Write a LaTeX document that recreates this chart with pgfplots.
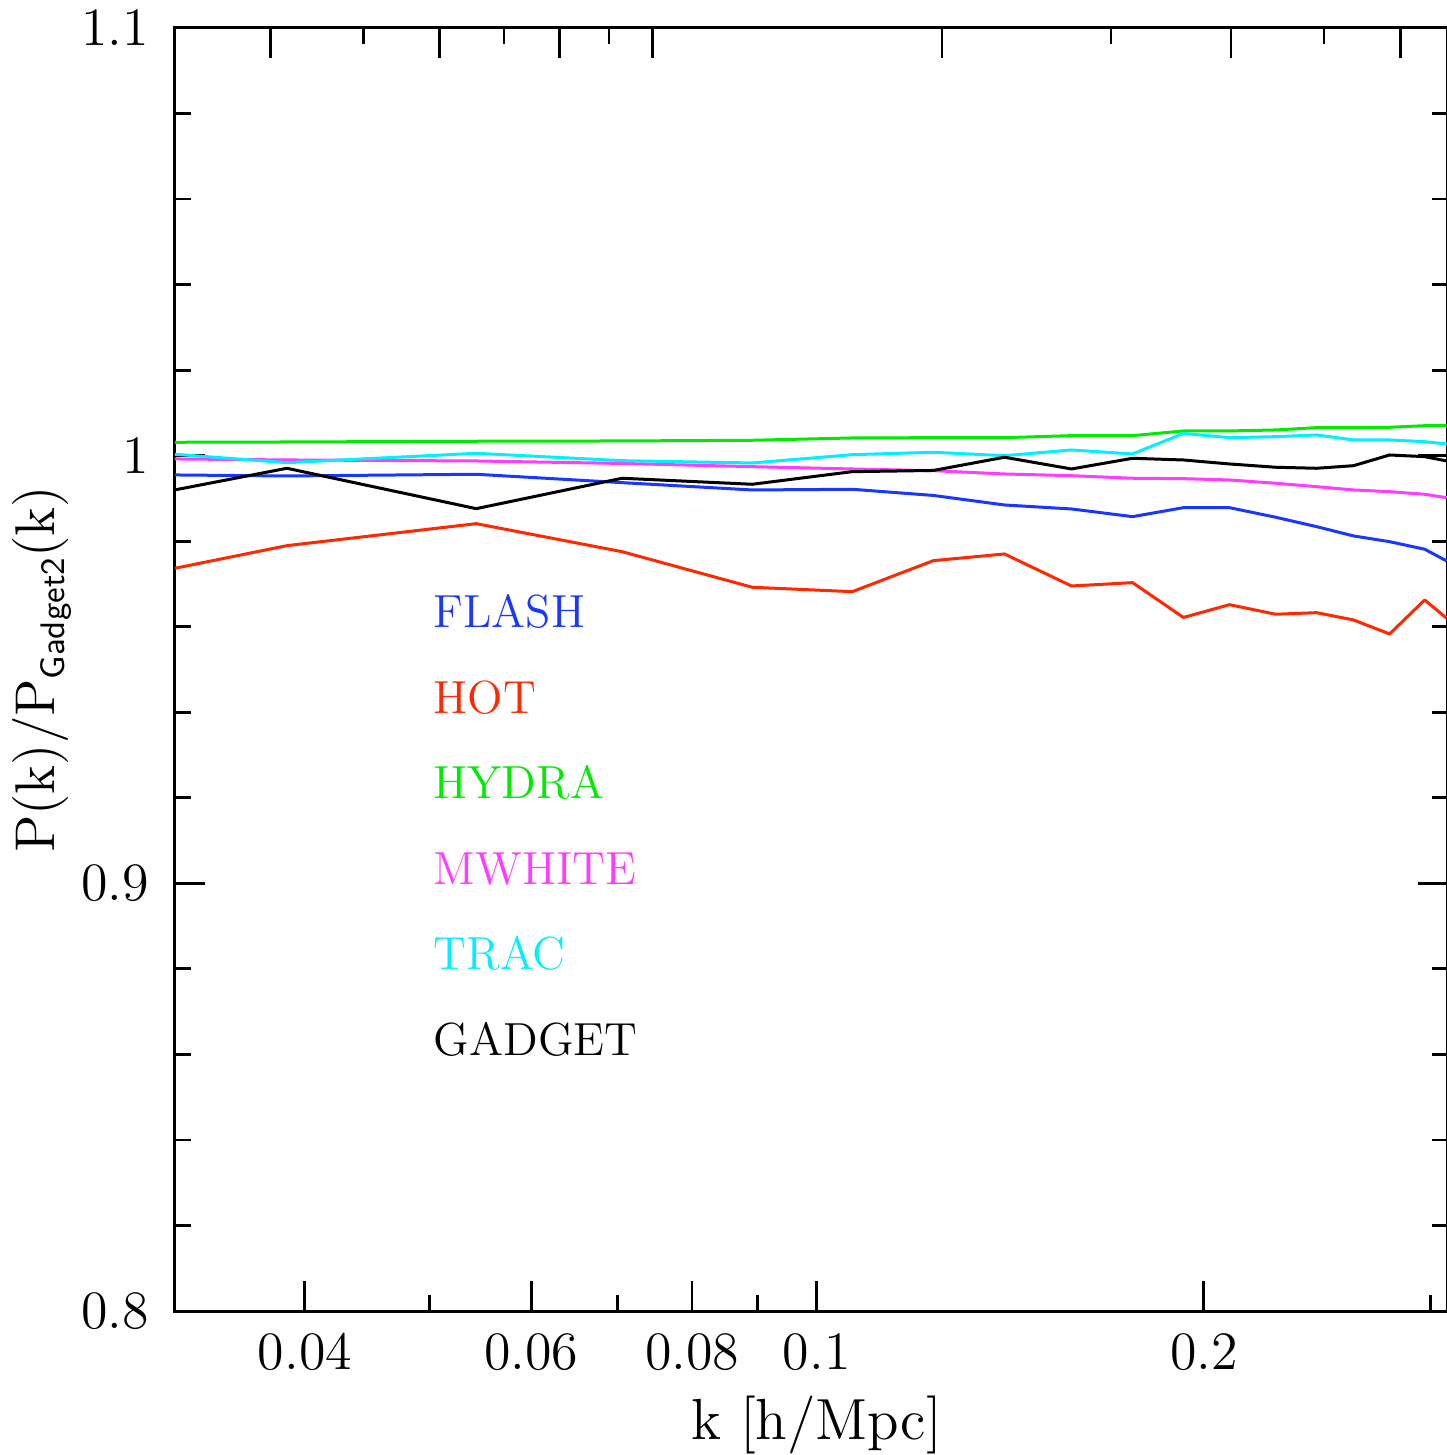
\documentclass[border=0pt]{standalone}
\usepackage{pgfplots}
\pgfplotsset{compat=1.18}
\usepackage{pgfplotstable}

\definecolor{cflash}{RGB}{25,55,255}
\definecolor{chot}{RGB}{255,40,0}
\definecolor{chydra}{RGB}{0,235,0}
\definecolor{cmwhite}{RGB}{255,60,255}
\definecolor{ctrac}{RGB}{0,240,255}

% Power spectrum ratio to GADGET2 for each code
\pgfplotstableread{
k        flash    hot      hydra    mwhite   trac     gadget
0.03170  0.99549  0.97367  1.00313  0.99923  1.00033  0.99200
0.03874  0.99525  0.97896  1.00320  0.99900  0.99836  0.99705
0.05436  0.99565  0.98410  1.00337  0.99876  1.00056  0.98761
0.07058  0.99369  0.97755  1.00344  0.99818  0.99883  0.99472
0.08910  0.99198  0.96923  1.00360  0.99743  0.99829  0.99331
0.10657  0.99214  0.96820  1.00414  0.99689  1.00023  0.99626
0.12321  0.99070  0.97545  1.00421  0.99649  1.00080  0.99654
0.13995  0.98847  0.97702  1.00421  0.99572  1.00000  0.99963
0.15778  0.98754  0.96953  1.00468  0.99532  1.00133  0.99689
0.17603  0.98574  0.97031  1.00468  0.99472  1.00040  0.99939
0.19283  0.98784  0.96217  1.00578  0.99462  1.00520  0.99899
0.20938  0.98784  0.96516  1.00578  0.99432  1.00421  0.99806
0.22743  0.98560  0.96292  1.00601  0.99355  1.00444  0.99729
0.24472  0.98340  0.96329  1.00655  0.99275  1.00484  0.99705
0.26146  0.98123  0.96158  1.00655  0.99198  1.00367  0.99766
0.27887  0.97989  0.95831  1.00664  0.99158  1.00367  1.00016
0.29695  0.97812  0.96626  1.00701  0.99097  1.00327  0.99977
0.30888  0.97538  0.96198  1.00701  0.99018  1.00274  0.99876
}\ratiotable

\pgfplotsset{
  frame/.style={
    scale only axis,
    width=318.25pt, height=320.75pt,
    ymin=0.8, ymax=1.1,
    axis line style={line width=0.75pt},
    major tick style={line width=0.7pt, black},
    minor tick style={line width=0.7pt, black},
    major tick length=7.5pt,
    minor tick length=4pt,
    tick align=inside,
  }
}

\begin{document}
\begin{tikzpicture}
\begin{axis}[
  frame,
  xmode=log,
  xmin=0.0317, xmax=0.3096,
  xtick={0.04,0.06,0.08,0.1,0.2},
  xticklabels={0.04,0.06,0.08,0.1,0.2},
  minor xtick={0.05,0.07,0.09,0.3},
  xtick pos=lower,
  ytick={0.8,0.9,1.0,1.1},
  yticklabels={0.8,0.9,1,1.1},
  minor ytick={0.82,0.84,0.86,0.88,0.92,0.94,0.96,0.98,1.02,1.04,1.06,1.08},
  ytick pos=both,
  tick label style={font=\fontsize{13.5}{16}\selectfont},
  xticklabel style={yshift=-2pt},
  yticklabel style={xshift=-3pt},
  xlabel={k [h/Mpc]},
  ylabel={P(k)/P\raisebox{-0.45ex}{\fontsize{8.5}{10}\selectfont\sffamily Gadget2}(k)},
  label style={font=\fontsize{14}{17}\selectfont},
  xlabel style={font=\fontsize{14.5}{17}\selectfont,
    at={(axis description cs:0.504,-0.1005)}, anchor=base},
  ylabel style={at={(axis description cs:-0.1045,0.5)}, anchor=center},
  every axis plot/.append style={line width=0.75pt, line join=round},
  clip=true,
]
\coordinate (sw) at (rel axis cs:0,0);

\addplot[cflash]  table[x=k, y=flash]  {\ratiotable};
\addplot[chot]    table[x=k, y=hot]    {\ratiotable};
\addplot[chydra]  table[x=k, y=hydra]  {\ratiotable};
\addplot[cmwhite] table[x=k, y=mwhite] {\ratiotable};
\addplot[ctrac]   table[x=k, y=trac]   {\ratiotable};
\addplot[black]   table[x=k, y=gadget] {\ratiotable};

\begin{scope}[every node/.style={anchor=base west, inner sep=0pt,
    font=\fontsize{11.6}{14}\selectfont}]
  \node[text=cflash]  at (rel axis cs:0.2027,0.5324) {FLASH};
  \node[text=chot]    at (rel axis cs:0.2027,0.4658) {HOT};
  \node[text=chydra]  at (rel axis cs:0.2027,0.3992) {HYDRA};
  \node[text=cmwhite] at (rel axis cs:0.2027,0.3326) {MWHITE};
  \node[text=ctrac]   at (rel axis cs:0.2027,0.2660) {TRAC};
  \node[text=black]   at (rel axis cs:0.2027,0.1994) {GADGET};
\end{scope}
\end{axis}

% upper edge ticks, on their own wider logarithmic range
\begin{axis}[
  frame,
  xmode=log,
  xmin=0.0318, xmax=0.673,
  xtick={0.04,0.06,0.08,0.1,0.2,0.4,0.6},
  minor xtick={0.05,0.07,0.09,0.3,0.5},
  xticklabels={},
  xtick pos=upper,
  ytick=\empty,
  axis line style={draw=none},
]
\end{axis}

\pgfresetboundingbox
\path[use as bounding box] (sw) ++(-43.75pt,-36pt) rectangle ++(361.5pt,363.75pt);
\end{tikzpicture}
\end{document}
